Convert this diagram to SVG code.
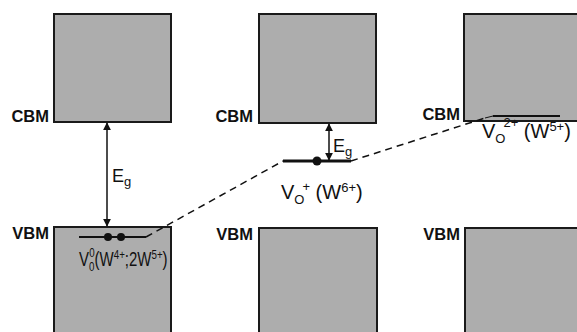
<svg xmlns="http://www.w3.org/2000/svg" width="577" height="332" viewBox="0 0 577 332">
<style>
.band{fill:#adadad;stroke:#1a1a1a;stroke-width:2}
.lbl{font-family:"Liberation Sans",Arial,sans-serif;font-size:16.5px;font-weight:bold;fill:#111;text-anchor:end}
.t{font-family:"Liberation Sans",Arial,sans-serif;font-size:20px;fill:#111}
.s{font-size:13px}
.e{font-family:"Liberation Sans",Arial,sans-serif;font-size:18px;fill:#111}
.lvl{stroke:#111;fill:none}
.dash{stroke:#111;stroke-width:1.5;stroke-dasharray:7,5;fill:none}
.arr{stroke:#111;stroke-width:1.5;fill:none;marker-start:url(#ah);marker-end:url(#ah)}
</style>
<defs>
<marker id="ah" viewBox="0 0 10 10" refX="9" refY="5" markerWidth="8" markerHeight="8" orient="auto-start-reverse" markerUnits="userSpaceOnUse">
<path d="M0,0 L10,5 L0,10 z" fill="#111"/>
</marker>
</defs>
<rect width="577" height="332" fill="#fff"/>
<g id="col1">
<rect class="band" x="54" y="14" width="117" height="108"/>
<rect class="band" x="54" y="227" width="117" height="115"/>
<text class="lbl" x="49" y="122">CBM</text>
<text class="lbl" x="49" y="239">VBM</text>
<line class="lvl" x1="79" y1="237" x2="146" y2="237" stroke-width="1.8"/>
<circle cx="108" cy="237" r="4" fill="#111"/>
<circle cx="121" cy="237" r="4" fill="#111"/>
<text class="t" transform="translate(79,266) scale(0.75,1)" x="0" y="0">V<tspan class="s" dy="5">0</tspan><tspan class="s" dx="-7" dy="-14">0</tspan><tspan dy="9">(W</tspan><tspan class="s" dy="-7">4+</tspan><tspan dy="7">;2W</tspan><tspan class="s" dy="-7">5+</tspan><tspan dy="7">)</tspan></text>
</g>
<g id="col2">
<rect class="band" x="259" y="14" width="117" height="109"/>
<rect class="band" x="259" y="228" width="118" height="114"/>
<text class="lbl" x="253" y="122">CBM</text>
<text class="lbl" x="253" y="240">VBM</text>
<line class="lvl" x1="283" y1="161" x2="351" y2="161" stroke-width="3"/>
<circle cx="317" cy="161" r="4.5" fill="#111"/>
<text class="t" x="281" y="199">V<tspan class="s" dy="5">O</tspan><tspan class="s" dx="-2" dy="-13">+</tspan><tspan dy="8"> (W</tspan><tspan class="s" dy="-7">6+</tspan><tspan dy="7">)</tspan></text>
</g>
<g id="col3">
<rect class="band" x="464" y="14" width="125" height="107"/>
<rect class="band" x="465" y="228" width="124" height="114"/>
<text class="lbl" x="460" y="120">CBM</text>
<text class="lbl" x="460" y="240">VBM</text>
<line class="lvl" x1="493" y1="116" x2="560" y2="116" stroke-width="2"/>
<text class="t" x="482" y="138">V<tspan class="s" dy="5">O</tspan><tspan class="s" dx="-2" dy="-16">2+</tspan><tspan dy="11"> (W</tspan><tspan class="s" dy="-7">5+</tspan><tspan dy="7">)</tspan></text>
</g>
<g id="connectors">
<line class="arr" x1="107" y1="123" x2="107" y2="226"/>
<text class="e" x="112" y="182">E<tspan class="s" dy="4">g</tspan></text>
<line class="arr" x1="329" y1="124" x2="329" y2="160"/>
<text class="e" x="333" y="152">E<tspan class="s" dy="4">g</tspan></text>
<line class="dash" x1="146" y1="237" x2="283" y2="161"/>
<line class="dash" x1="351" y1="161" x2="485" y2="118"/>
<line class="lvl" x1="485" y1="118" x2="493" y2="116" stroke-width="1"/>
</g>
</svg>
